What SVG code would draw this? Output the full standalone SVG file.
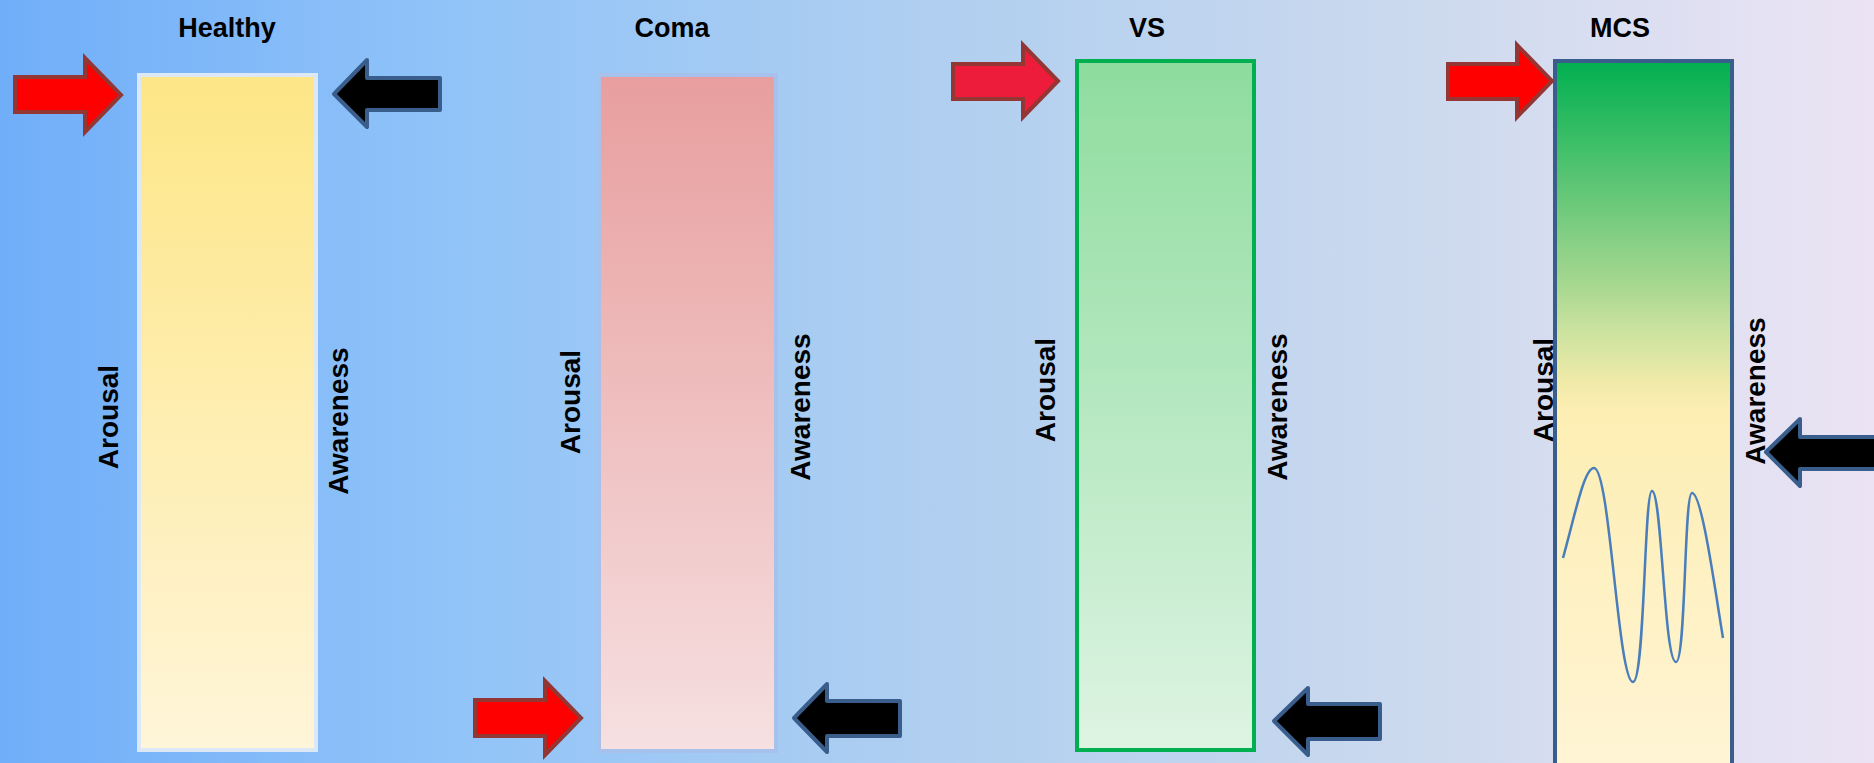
<svg xmlns="http://www.w3.org/2000/svg" width="1874" height="763" viewBox="0 0 1874 763">
<defs>
<linearGradient id="bg" x1="0" y1="0" x2="1" y2="0">
<stop offset="0" stop-color="#70aef9"/>
<stop offset="0.25" stop-color="#92c4f8"/>
<stop offset="0.5" stop-color="#b0cff0"/>
<stop offset="0.75" stop-color="#cbd9ee"/>
<stop offset="1" stop-color="#ece4f4"/>
</linearGradient>
<linearGradient id="gH" x1="0" y1="0" x2="0" y2="1">
<stop offset="0" stop-color="#fde686"/>
<stop offset="1" stop-color="#fff5d9"/>
</linearGradient>
<linearGradient id="gC" x1="0" y1="0" x2="0" y2="1">
<stop offset="0" stop-color="#e89e9e"/>
<stop offset="1" stop-color="#f6e0e1"/>
</linearGradient>
<linearGradient id="gV" x1="0" y1="0" x2="0" y2="1">
<stop offset="0" stop-color="#8edc9e"/>
<stop offset="1" stop-color="#def4e3"/>
</linearGradient>
<linearGradient id="gM" gradientUnits="userSpaceOnUse" x1="0" y1="60" x2="0" y2="763">
<stop offset="0" stop-color="#00af4f"/>
<stop offset="0.128" stop-color="#42c06a"/>
<stop offset="0.175" stop-color="#5cc575"/>
<stop offset="0.317" stop-color="#a5d78f"/>
<stop offset="0.388" stop-color="#cde3a0"/>
<stop offset="0.459" stop-color="#f0eaa8"/>
<stop offset="0.498" stop-color="#fdeeb3"/>
<stop offset="1" stop-color="#fff4d4"/>
</linearGradient>
</defs>
<style>
.t{font-family:"Liberation Sans",Arial,sans-serif;font-weight:bold;font-size:27px;fill:#000;text-anchor:middle}
.v{font-family:"Liberation Sans",Arial,sans-serif;font-weight:bold;font-size:28px;fill:#000;text-anchor:middle}
.red{fill:#ff0000;stroke:#943634;stroke-width:4;stroke-linejoin:miter}
.red2{fill:#ee1c3b;stroke:#943634;stroke-width:4}
.blk{fill:#000;stroke:#3a5e8c;stroke-width:4;stroke-linejoin:round}
</style>
<rect x="0" y="0" width="1874" height="763" fill="url(#bg)"/>

<g id="healthy">
<rect x="139" y="75" width="177" height="675" fill="url(#gH)" stroke="#dde8f6" stroke-width="4"/>
<text class="t" x="227" y="37">Healthy</text>
<text class="v" transform="translate(118,417) rotate(-90)">Arousal</text>
<text class="v" transform="translate(348,421) rotate(-90)">Awareness</text>
<path class="red" d="M15,77 H85 V58 L121,95 L85,132 V112 H15 Z"/>
<path class="blk" d="M440,78 H367 V60 L334,94 L367,127 V110 H440 Z"/>
</g>

<g id="coma">
<rect x="599" y="75" width="177" height="676" fill="url(#gC)" stroke="#a6c1ec" stroke-width="4"/>
<text class="t" x="672" y="37">Coma</text>
<text class="v" transform="translate(580,402) rotate(-90)">Arousal</text>
<text class="v" transform="translate(810,407) rotate(-90)">Awareness</text>
<path class="red" d="M475,700 H545 V681 L581,718 L545,755 V736 H475 Z"/>
<path class="blk" d="M900,701 H827 V684 L794,718 L827,752 V736 H900 Z"/>
</g>

<g id="vs">
<rect x="1077" y="61" width="177" height="689" fill="url(#gV)" stroke="#00b050" stroke-width="4"/>
<text class="t" x="1147" y="37">VS</text>
<text class="v" transform="translate(1055,390) rotate(-90)">Arousal</text>
<text class="v" transform="translate(1287,407) rotate(-90)">Awareness</text>
<path class="red2" d="M953,64 H1023 V45 L1058,81 L1023,117 V99 H953 Z"/>
<path class="blk" d="M1380,704 H1308 V688 L1274,721 L1308,755 V739 H1380 Z"/>
</g>

<g id="mcs">
<rect x="1555" y="61" width="177" height="720" fill="url(#gM)" stroke="#3a5e8c" stroke-width="4"/>
<text class="t" x="1620" y="37">MCS</text>
<text class="v" transform="translate(1553,390) rotate(-90)">Arousal</text>
<text class="v" transform="translate(1765,391) rotate(-90)">Awareness</text>
<path class="red" d="M1448,64 H1517 V45 L1552,81 L1517,117 V99 H1448 Z"/>
<path class="blk" d="M1876,437 H1800 V419 L1766,452 L1800,486 V469 H1876 Z"/>
<path d="M1563,558 C1575,515 1584,468 1594,468 C1610,468 1618,682 1633,682 C1645,682 1644,491 1652,491 C1662,491 1664,662 1676,662 C1686,662 1684,493 1692,493 C1702,493 1715,590 1723,638" fill="none" stroke="#4a7ebb" stroke-width="2.5"/>
</g>
</svg>
